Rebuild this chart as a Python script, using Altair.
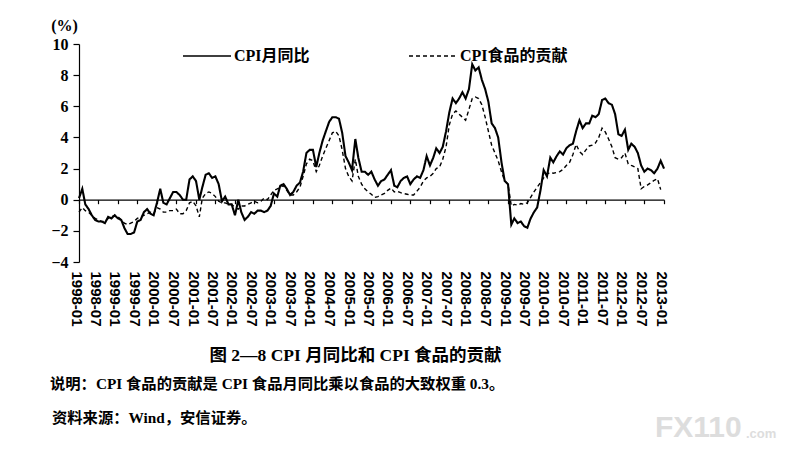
import altair as alt
import pandas as pd

# ---------------- data ----------------
series_names = ["CPI月同比", "CPI食品的贡献"]

cpi_1998 = [0.1, 0.7, -0.3, -0.6, -1.0, -1.3, -1.4, -1.4, -1.5, -1.1, -1.2, -1.0]
cpi_1999 = [-1.2, -1.3, -1.8, -2.2, -2.2, -2.1, -1.4, -1.3, -0.8, -0.6, -0.9, -1.0]
cpi_2000 = [-0.2, 0.7, -0.2, -0.3, 0.1, 0.5, 0.5, 0.3, 0.0, 0.0, 1.3, 1.5]
cpi_2001 = [1.2, 0.0, 0.8, 1.6, 1.7, 1.4, 1.5, 1.0, -0.1, 0.2, -0.3, -0.3]
cpi_2002 = [-1.0, 0.0, -0.8, -1.3, -1.1, -0.8, -0.9, -0.7, -0.7, -0.8, -0.7, -0.4]
cpi_2003 = [0.4, 0.2, 0.9, 1.0, 0.7, 0.3, 0.5, 0.9, 1.1, 1.8, 3.0, 3.2]
cpi_2004 = [3.2, 2.1, 3.0, 3.8, 4.4, 5.0, 5.3, 5.3, 5.2, 4.3, 2.8, 2.4]
cpi_2005 = [1.9, 3.9, 2.7, 1.8, 1.8, 1.6, 1.8, 1.3, 0.9, 1.2, 1.3, 1.6]
cpi_2006 = [1.9, 0.9, 0.8, 1.2, 1.4, 1.5, 1.0, 1.3, 1.5, 1.4, 1.9, 2.8]
cpi_2007 = [2.2, 2.7, 3.3, 3.0, 3.4, 4.4, 5.6, 6.5, 6.2, 6.5, 6.9, 6.5]
cpi_2008 = [7.1, 8.7, 8.3, 8.5, 7.7, 7.1, 6.3, 4.9, 4.6, 4.0, 2.4, 1.2]
cpi_2009 = [1.0, -1.6, -1.2, -1.5, -1.4, -1.7, -1.8, -1.2, -0.8, -0.5, 0.6, 1.9]
cpi_2010 = [1.5, 2.7, 2.4, 2.8, 3.1, 2.9, 3.3, 3.5, 3.6, 4.4, 5.1, 4.6]
cpi_2011 = [4.9, 4.9, 5.4, 5.3, 5.5, 6.4, 6.5, 6.2, 6.1, 5.5, 4.2, 4.1]
cpi_2012 = [4.5, 3.2, 3.6, 3.4, 3.0, 2.2, 1.8, 2.0, 1.9, 1.7, 2.0, 2.5]
cpi_2013 = [2.0]

food_1998 = [-0.8, -0.5, -0.7, -0.8, -1.0, -1.2, -1.3, -1.4, -1.4, -1.2, -1.1, -1.0]
food_1999 = [-1.1, -1.3, -1.5, -1.6, -1.5, -1.4, -1.2, -1.1, -1.0, -0.9, -0.8, -0.9]
food_2000 = [-0.5, -0.6, -0.8, -0.8, -0.7, -0.7, -0.6, -0.9, -0.9, -0.7, -0.2, -0.1]
food_2001 = [-0.4, -1.1, 0.1, 0.4, 0.5, 0.4, 0.2, -0.1, -0.2, -0.2, -0.3, -0.3]
food_2002 = [-0.5, -0.6, -0.4, -0.4, -0.3, -0.2, -0.1, -0.2, -0.1, 0.1, 0.0, 0.3]
food_2003 = [0.6, 0.7, 0.8, 0.9, 0.6, 0.3, 0.3, 0.5, 0.8, 1.5, 2.3, 2.6]
food_2004 = [2.5, 1.8, 2.2, 2.8, 3.3, 3.8, 4.3, 4.4, 4.1, 3.2, 2.0, 1.5]
food_2005 = [1.2, 2.6, 1.5, 1.0, 0.7, 0.5, 0.35, 0.15, 0.2, 0.3, 0.4, 0.6]
food_2006 = [0.75, 0.5, 0.55, 0.45, 0.4, 0.35, 0.3, 0.3, 0.55, 0.8, 1.2, 1.4]
food_2007 = [1.5, 1.7, 2.0, 2.1, 2.6, 3.4, 4.8, 5.5, 5.7, 5.5, 5.3, 5.1]
food_2008 = [5.8, 6.5, 6.6, 6.5, 6.1, 5.3, 4.4, 3.5, 3.0, 2.5, 1.8, 1.2]
food_2009 = [1.0, -0.4, -0.3, -0.35, -0.25, -0.3, -0.2, 0.15, 0.5, 0.8, 1.1, 1.4]
food_2010 = [1.65, 1.75, 1.7, 1.75, 1.8, 1.95, 2.2, 2.4, 2.9, 3.55, 3.1, 2.9]
food_2011 = [3.2, 3.45, 3.5, 3.65, 4.0, 4.6, 4.35, 3.9, 3.4, 2.7, 2.6, 2.7]
food_2012 = [3.0, 2.3, 2.2, 2.1, 2.0, 0.7, 0.85, 0.95, 1.1, 1.25, 1.35, 0.65]

tick_years = list(range(1998, 2014))
tick_months = [1, 7]
y_ticks = [-4, -2, 0, 2, 4, 6, 8, 10]

y_title = "(%)"
caption_text = "图 2—8   CPI 月同比和 CPI 食品的贡献"
note_text = "说明：CPI 食品的贡献是 CPI 食品月同比乘以食品的大致权重 0.3。"
source_text = "资料来源：Wind，安信证券。"
wm_big = "FX110"
wm_small = ".com"

# ---------------- tables ----------------
cpi_values = (cpi_1998 + cpi_1999 + cpi_2000 + cpi_2001 + cpi_2002 + cpi_2003 + cpi_2004
              + cpi_2005 + cpi_2006 + cpi_2007 + cpi_2008 + cpi_2009 + cpi_2010 + cpi_2011
              + cpi_2012 + cpi_2013)
food_values = (food_1998 + food_1999 + food_2000 + food_2001 + food_2002 + food_2003 + food_2004
               + food_2005 + food_2006 + food_2007 + food_2008 + food_2009 + food_2010
               + food_2011 + food_2012)

months = pd.date_range("1998-01-01", periods=len(cpi_values), freq="MS")
df_cpi = pd.DataFrame({"date": months, "value": cpi_values, "series": series_names[0]})
df_food = pd.DataFrame({"date": months[:len(food_values)], "value": food_values,
                        "series": series_names[1]})

tick_dates = [alt.DateTime(year=y, month=m, date=1) for y in tick_years for m in tick_months
              if not (y == 2013 and m == 7)]

SERIF = "'Liberation Serif', 'Noto Sans CJK SC'"
SANS = "'Liberation Sans', 'Noto Sans CJK SC'"

x_scale = alt.Scale(domain=[alt.DateTime(year=1998, month=1, date=1),
                            alt.DateTime(year=2013, month=1, date=1)])

axis_labels = alt.Axis(orient="bottom", values=tick_dates, format="%Y-%m", labelAngle=90,
                       labelFont=SANS, labelFontWeight="bold", labelFontSize=15,
                       labelColor="black", domain=False, ticks=False, grid=False,
                       labelPadding=9, labelOffset=-3, labelOverlap=False,
                       labelFlush=False, title=None)
axis_zero = alt.Axis(orient="bottom", values=tick_dates, labels=False, ticks=True, tickSize=4,
                     tickColor="black", tickWidth=1.2, domain=True, domainColor="black",
                     domainWidth=1.2, grid=False, offset=-62.3, title=None)

y_enc = alt.Y("value:Q",
              scale=alt.Scale(domain=[-4, 10], nice=False, zero=False),
              axis=alt.Axis(values=y_ticks, grid=False, domainColor="black", domainWidth=1.2,
                            tickColor="black", tickWidth=1.2, tickSize=6, labelPadding=5,
                            labelFont=SERIF, labelFontWeight="bold", labelFontSize=16,
                            labelColor="black", title=y_title, titleAngle=0, titleX=-15,
                            titleY=-19, titleAlign="center", titleBaseline="middle",
                            titleFont=SERIF, titleFontSize=16, titleFontWeight="bold",
                            titleColor="black"))

dash_enc = alt.StrokeDash(
    "series:N",
    scale=alt.Scale(domain=series_names, range=[[1, 0], [4, 3]]),
    legend=alt.Legend(orient="none", legendX=103, legendY=-13, direction="horizontal",
                      title=None, symbolType="stroke", symbolSize=2304,
                      symbolStrokeWidth=1.3, labelFont=SERIF, labelFontSize=16,
                      labelFontWeight="bold", labelColor="black", labelOffset=2,
                      columnPadding=96, padding=0),
)

food_line = alt.Chart(df_food).mark_line(color="black", strokeWidth=1.4).encode(
    x=alt.X("date:T", scale=x_scale, axis=axis_zero), y=y_enc, strokeDash=dash_enc)
cpi_line = alt.Chart(df_cpi).mark_line(color="black", strokeWidth=2.1).encode(
    x=alt.X("date:T", scale=x_scale, axis=axis_labels), y=y_enc, strokeDash=dash_enc)


def text_layer(txt, x, y, size, weight="bold", align="left", color="black", font=SERIF):
    return alt.Chart(pd.DataFrame({"t": [txt]})).mark_text(
        font=font, fontSize=size, fontWeight=weight, align=align, baseline="middle",
        color=color).encode(text="t:N", x=alt.value(x), y=alt.value(y))


caption = text_layer(caption_text, 276.5, 312, 17.5, align="center")
note = text_layer(note_text, -29, 340, 15.3)
source = text_layer(source_text, -27, 374, 15.3)
wm1 = text_layer(wm_big, 576, 384, 30, color="#dddddd", font="'Liberation Sans'")
wm2 = text_layer(wm_small, 667, 390, 13, color="#dddddd", font="'Liberation Sans'")

chart = alt.layer(food_line, cpi_line, caption, note, source, wm1, wm2).resolve_axis(
    x="independent"
).properties(
    width=585, height=218,
    autosize=alt.AutoSizeParams(type="none"),
    padding={"left": 71, "top": 36, "right": 113, "bottom": 182},
).configure_view(stroke=None)

chart.save("out.html", embed_options={"renderer": "svg", "actions": False})
